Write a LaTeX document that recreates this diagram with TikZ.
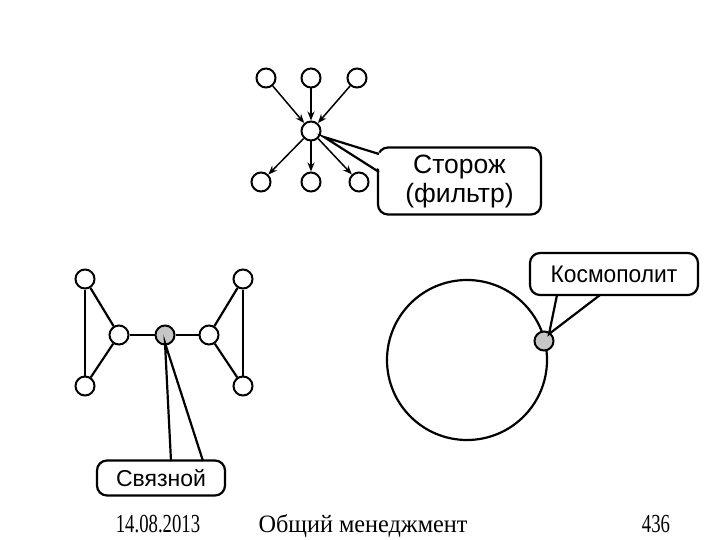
\documentclass[tikz,border=0pt]{standalone}
\usepackage{fontspec}
\setmainfont{Liberation Serif}
\newfontfamily\lsans{Liberation Sans}
\newfontfamily\lsansnarrow[FakeStretch=0.95]{Liberation Sans}
\newfontfamily\lserifdate[FakeStretch=0.72]{Liberation Serif}
\newfontfamily\lseriftitle[FakeStretch=0.97]{Liberation Serif}
\usetikzlibrary{arrows.meta}
\begin{document}
\begin{tikzpicture}[x=1pt,y=-1pt,line width=2.2pt,
  vtx/.style={circle,draw,fill=white,minimum size=19pt,inner sep=0pt,line width=2pt},
  hub/.style={vtx,fill=gray!45},
  arr/.style={-{Stealth[length=9pt,width=7pt]},line width=1.5pt},
  ln/.style={line width=2.2pt},
  bubble/.style={draw,rounded corners=10pt,fill=white,inner sep=0pt,
    align=center,line width=2.2pt},
  foot/.style={inner sep=0pt,anchor=base}]
\useasboundingbox (0,0) rectangle (720,540);
% --- star (Сторож) ---
\node[vtx] (t1) at (266,78) {};
\node[vtx] (t2) at (311,78) {};
\node[vtx] (t3) at (357,78) {};
\node[vtx] (c) at (311,131) {};
\node[vtx] (b1) at (261,182) {};
\node[vtx] (b2) at (311,182) {};
\node[vtx] (b3) at (359,182) {};
\foreach \n in {t1,t2,t3} \draw[arr] (\n) -- (c);
\foreach \n in {b1,b2,b3} \draw[arr] (c) -- (\n);
\node[bubble,minimum width=163pt,minimum height=67pt,
  font=\lsans\fontsize{26.5}{29}\selectfont] (S) at (459.5,181) {Сторож\\(фильтр)};
\coordinate (sTip) at (324,137);
\coordinate (s1) at (379,154);
\coordinate (s2) at (379,172);
\fill[white] (sTip) -- ([xshift=5pt]s1) -- ([xshift=5pt]s2) -- cycle;
\draw[line join=miter] (s1) -- (sTip) -- (s2);
% --- broker (Связной) ---
\node[vtx] (l1) at (85,279) {};
\node[vtx] (l2) at (85,386) {};
\node[vtx] (lm) at (119,335) {};
\node[hub] (g) at (165,335) {};
\node[vtx] (rm) at (209,335) {};
\node[vtx] (r1) at (243,279) {};
\node[vtx] (r2) at (243,386) {};
\draw[ln] (l1) -- (l2);
\draw[ln] (l1) -- (lm);
\draw[ln] (l2) -- (lm);
\draw[ln] (lm) -- (g);
\draw[ln] (g) -- (rm);
\draw[ln] (rm) -- (r1);
\draw[ln] (rm) -- (r2);
\draw[ln] (r1) -- (r2);
\node[bubble,minimum width=128pt,minimum height=35pt,
  font=\lsans\fontsize{23}{27}\selectfont] (B) at (161,478) {Связной};
\coordinate (bTip) at (165,343);
\coordinate (b1p) at (171,461);
\coordinate (b2p) at (203,461);
\fill[white] (bTip) -- ([yshift=4pt]b1p) -- ([yshift=4pt]b2p) -- cycle;
\draw (b1p) -- (bTip) -- (b2p);
% --- cosmopolitan (Космополит) ---
\node[circle,draw,line width=2.2pt,minimum size=160pt,inner sep=0pt] (ring) at (467,360) {};
\node[hub] (k) at (544,341) {};
\node[bubble,minimum width=168pt,minimum height=42pt,
  font=\lsansnarrow\fontsize{24}{28}\selectfont] (K) at (614,274) {Космополит};
\coordinate (kTip) at (549,334);
\coordinate (k1p) at (557,295);
\coordinate (k2p) at (600,295);
\fill[white] (kTip) -- ([yshift=-4pt]k1p) -- ([yshift=-4pt]k2p) -- cycle;
\draw (k1p) -- (kTip) -- (k2p);
% --- footer ---
\node[foot,font=\lserifdate\fontsize{26}{30}\selectfont] (d) at (158,532) {14.08.2013};
\node[foot,font=\lseriftitle\fontsize{25}{29}\selectfont] (m) at (363,532) {Общий менеджмент};
\node[foot,font=\lserifdate\fontsize{26}{30}\selectfont] (p) at (656,532) {436};
\end{tikzpicture}
\end{document}
